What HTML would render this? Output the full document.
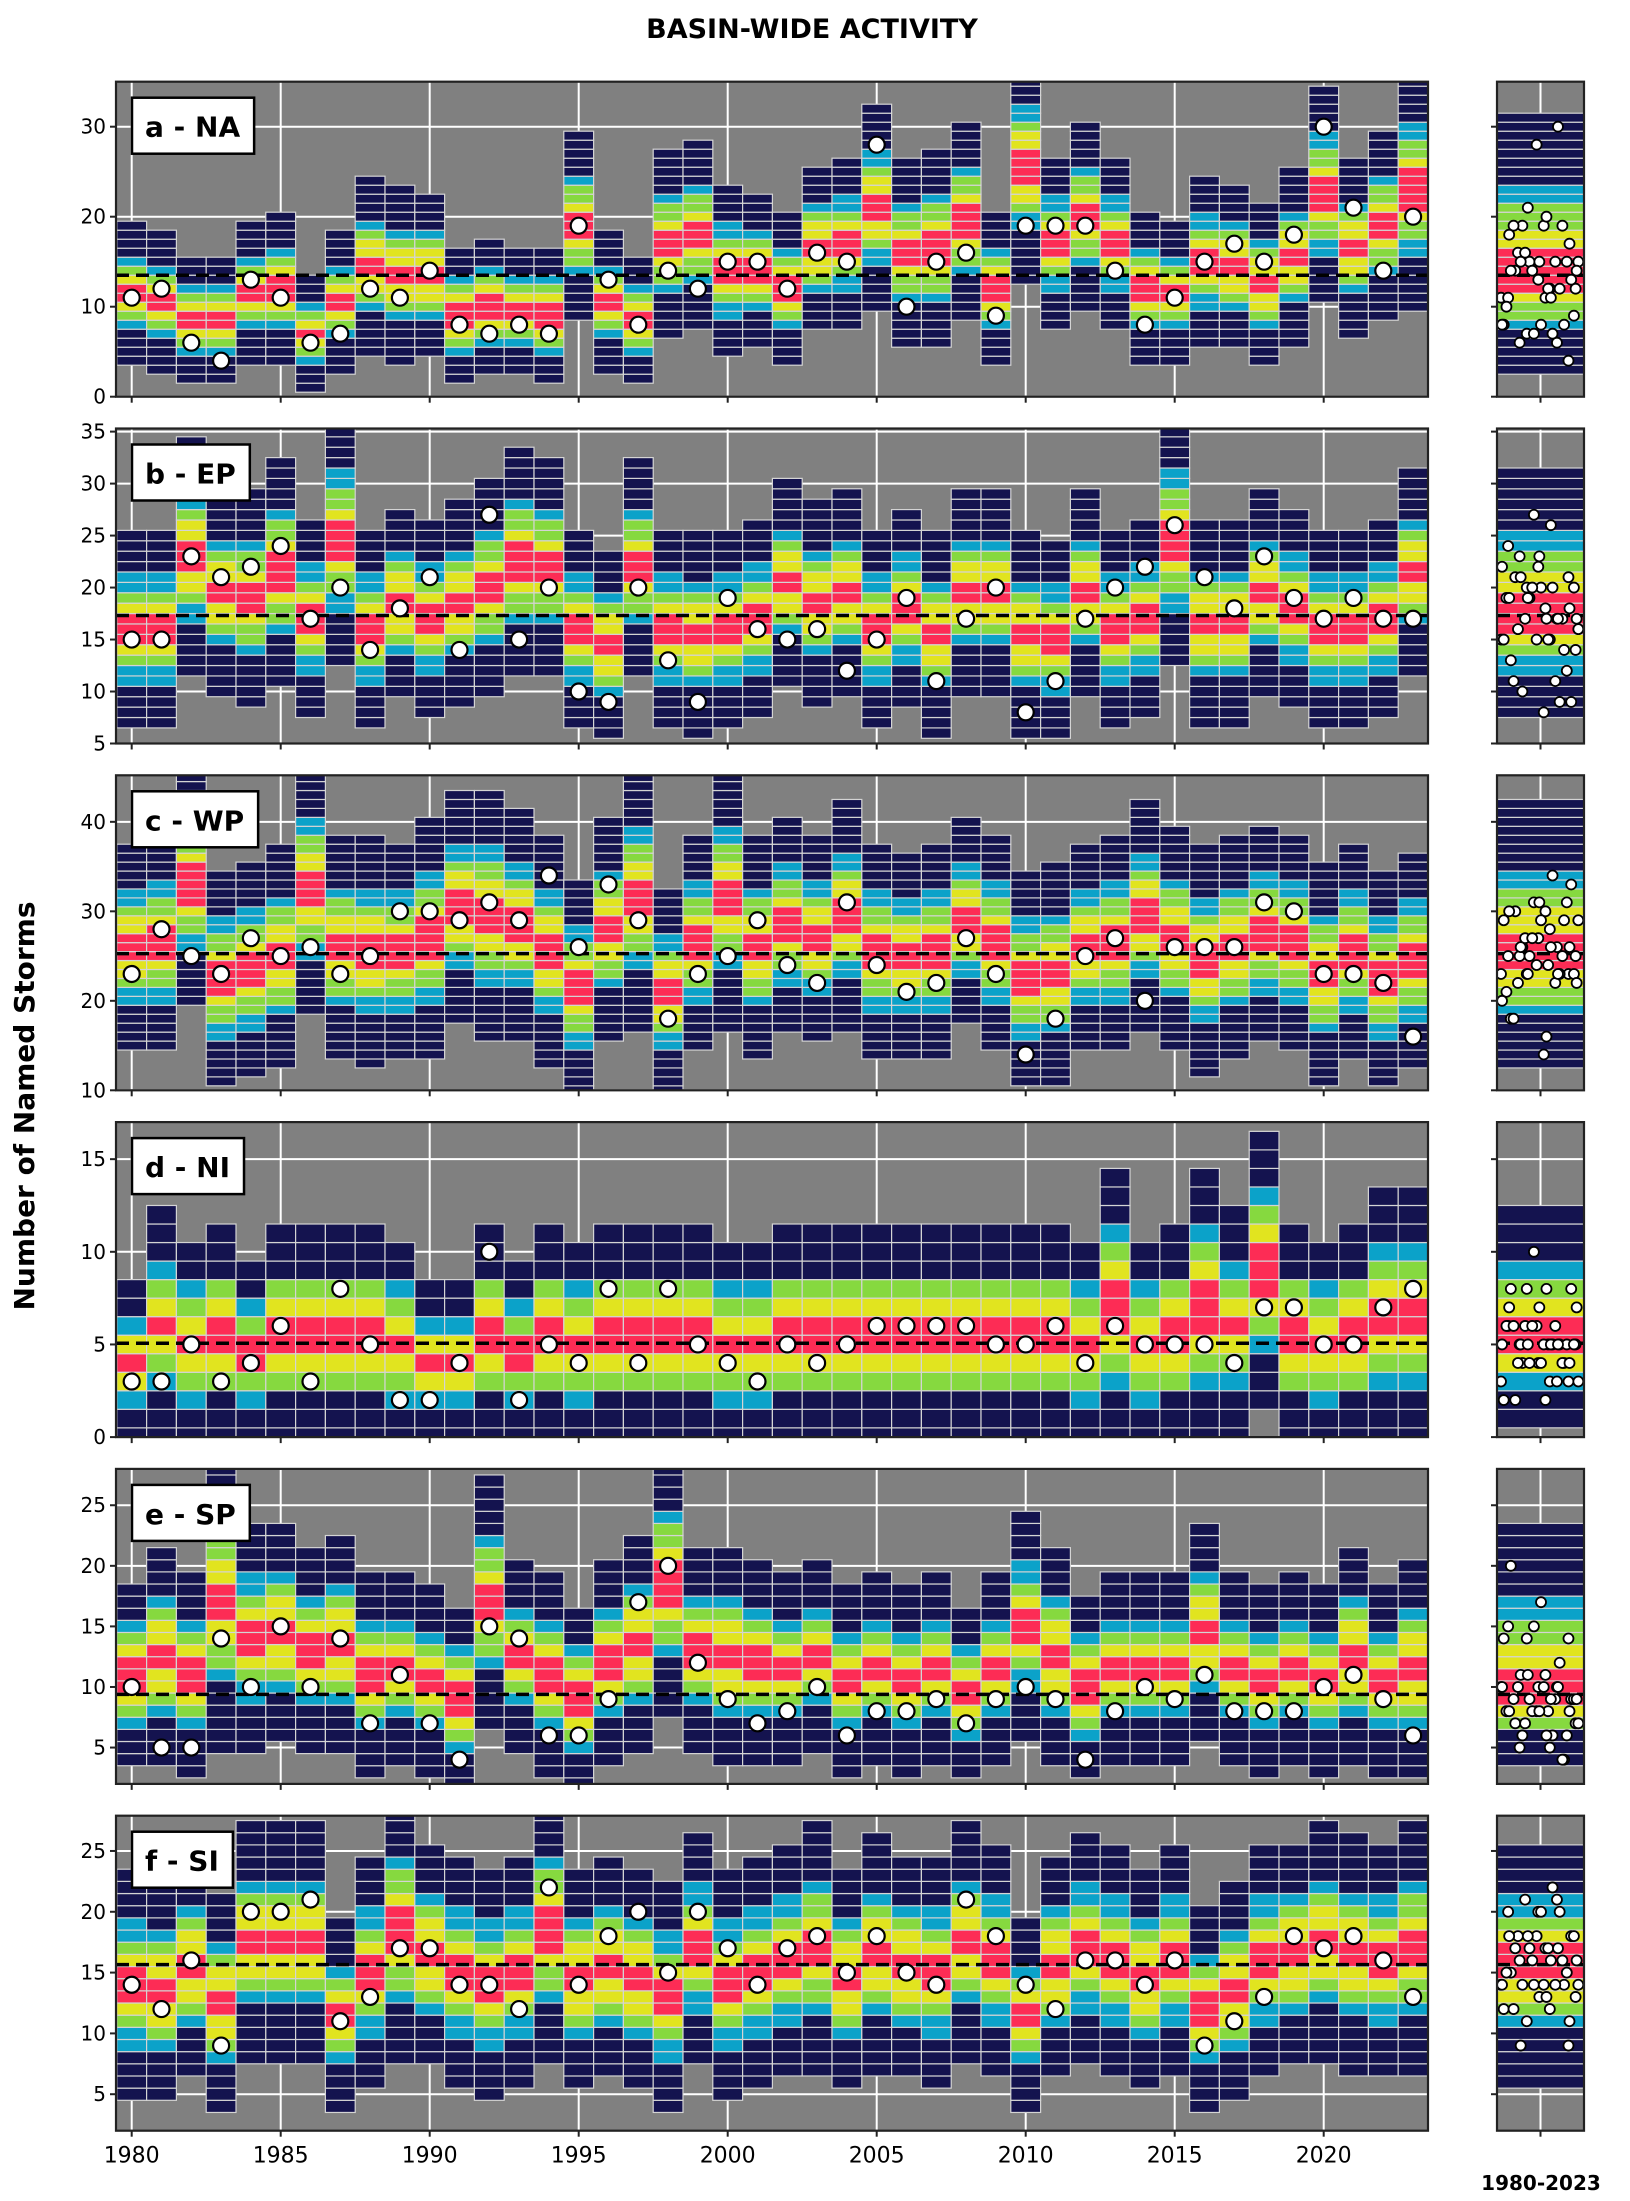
<!DOCTYPE html>
<html><head><meta charset="utf-8"><style>
body{margin:0;background:#fff}
svg{display:block;font-family:"DejaVu Sans","Liberation Sans",sans-serif}
</style></head><body>
<svg id="chart" width="1630" height="2201" viewBox="0 0 1630 2201">
<text x="812" y="38" text-anchor="middle" font-size="27" font-weight="bold">BASIN-WIDE ACTIVITY</text>
<text transform="translate(34,1106) rotate(-90)" text-anchor="middle" font-size="28" font-weight="bold">Number of Named Storms</text>
<text x="1541" y="2190" text-anchor="middle" font-size="20" font-weight="bold">1980-2023</text>
</svg>
<script>
const years = Array.from({length:44},(_, i)=>1980+i);
const panelNames = ["a - NA","b - EP","c - WP","d - NI","e - SP","f - SI"];
const yMin = [0,5,10,0,2,2];
const yMax = [35,35.3,45.2,17,28,27.9];
const yTicks = [[0,10,20,30],[5,10,15,20,25,30,35],[10,20,30,40],[0,5,10,15],[5,10,15,20,25],[5,10,15,20,25]];
const xTickYears = [1980,1985,1990,1995,2000,2005,2010,2015,2020];
const obsNA = [11,12,6,4,13,11,6,7,12,11,14,8,7,8,7,19,13,8,14,12,15,15,12,16,15,28,10,15,16,9,19,19,19,14,8,11,15,17,15,18,30,21,14,20];
const lowNA = [3.5,2.5,1.5,1.5,3.5,3.5,0.5,2.5,4.5,3.5,4.5,1.5,2.5,2.5,1.5,8.5,2.5,1.5,6.5,7.5,4.5,5.5,3.5,7.5,7.5,9.5,5.5,5.5,8.5,3.5,12.5,7.5,9.5,7.5,3.5,3.5,5.5,5.5,3.5,5.5,10.5,6.5,8.5,9.5];
const highNA = [19.5,18.5,15.5,15.5,19.5,20.5,13.5,18.5,24.5,23.5,22.5,16.5,17.5,16.5,16.5,29.5,18.5,15.5,27.5,28.5,23.5,22.5,20.5,25.5,26.5,32.5,26.5,27.5,30.5,20.5,38.5,26.5,30.5,26.5,20.5,19.5,24.5,23.5,21.5,25.5,34.5,26.5,29.5,36.5];
const obsEP = [15,15,23,21,22,24,17,20,14,18,21,14,27,15,20,10,9,20,13,9,19,16,15,16,12,15,19,11,17,20,8,11,17,20,22,26,21,18,23,19,17,19,17,17];
const lowEP = [6.5,6.5,11.5,9.5,8.5,10.5,7.5,12.5,6.5,9.5,7.5,8.5,9.5,11.5,11.5,6.5,5.5,11.5,6.5,5.5,6.5,7.5,10.5,8.5,9.5,6.5,8.5,5.5,9.5,9.5,5.5,5.5,9.5,6.5,7.5,12.5,6.5,6.5,9.5,8.5,6.5,6.5,7.5,11.5];
const highEP = [25.5,25.5,34.5,29.5,29.5,32.5,26.5,36.5,25.5,27.5,26.5,28.5,30.5,33.5,32.5,25.5,23.5,32.5,25.5,25.5,25.5,26.5,30.5,28.5,29.5,25.5,27.5,25.5,29.5,29.5,25.5,24.5,29.5,25.5,26.5,36.5,26.5,26.5,29.5,27.5,25.5,25.5,26.5,31.5];
const obsWP = [23,28,25,23,27,25,26,23,25,30,30,29,31,29,34,26,33,29,18,23,25,29,24,22,31,24,21,22,27,23,14,18,25,27,20,26,26,26,31,30,23,23,22,16];
const lowWP = [14.5,14.5,19.5,10.5,11.5,12.5,18.5,13.5,12.5,13.5,13.5,17.5,15.5,15.5,12.5,9.5,15.5,16.5,9.5,14.5,16.5,13.5,16.5,15.5,16.5,13.5,13.5,13.5,17.5,14.5,10.5,10.5,14.5,14.5,16.5,14.5,11.5,13.5,15.5,14.5,10.5,13.5,10.5,12.5];
const highWP = [37.5,38.5,46.5,34.5,35.5,37.5,46.5,38.5,38.5,37.5,40.5,43.5,43.5,41.5,38.5,33.5,40.5,46.5,32.5,38.5,46.5,38.5,40.5,38.5,42.5,37.5,36.5,37.5,40.5,38.5,34.5,35.5,37.5,38.5,42.5,39.5,37.5,38.5,39.5,38.5,35.5,37.5,34.5,36.5];
const obsNI = [3,3,5,3,4,6,3,8,5,2,2,4,10,2,5,4,8,4,8,5,4,3,5,4,5,6,6,6,6,5,5,6,4,6,5,5,5,4,7,7,5,5,7,8];
const lowNI = [-0.5,-0.5,-0.5,-0.5,-0.5,-0.5,-0.5,-0.5,-0.5,-0.5,-0.5,-0.5,-0.5,-0.5,-0.5,-0.5,-0.5,-0.5,-0.5,-0.5,-0.5,-0.5,-0.5,-0.5,-0.5,-0.5,-0.5,-0.5,-0.5,-0.5,-0.5,-0.5,-0.5,-0.5,-0.5,-0.5,-0.5,-0.5,1.5,-0.5,-0.5,-0.5,-0.5,-0.5];
const highNI = [8.5,12.5,10.5,11.5,9.5,11.5,11.5,11.5,11.5,10.5,8.5,8.5,11.5,9.5,11.5,10.5,11.5,11.5,11.5,11.5,10.5,10.5,11.5,11.5,11.5,11.5,11.5,11.5,11.5,11.5,11.5,11.5,10.5,14.5,10.5,11.5,14.5,12.5,16.5,11.5,10.5,11.5,13.5,13.5];
const obsSP = [10,5,5,14,10,15,10,14,7,11,7,4,15,14,6,6,9,17,20,12,9,7,8,10,6,8,8,9,7,9,10,9,4,8,10,9,11,8,8,8,10,11,9,6];
const lowSP = [3.5,3.5,2.5,4.5,4.5,5.5,4.5,4.5,2.5,3.5,2.5,1.5,6.5,4.5,2.5,1.5,3.5,4.5,7.5,4.5,3.5,3.5,3.5,4.5,2.5,3.5,2.5,3.5,2.5,3.5,5.5,3.5,2.5,3.5,3.5,3.5,5.5,3.5,2.5,3.5,2.5,3.5,2.5,2.5];
const highSP = [18.5,21.5,19.5,29.5,23.5,23.5,21.5,22.5,19.5,19.5,18.5,16.5,27.5,20.5,19.5,16.5,20.5,22.5,29.5,21.5,21.5,20.5,19.5,20.5,18.5,19.5,18.5,19.5,16.5,19.5,24.5,21.5,17.5,19.5,19.5,19.5,23.5,19.5,18.5,19.5,18.5,21.5,18.5,20.5];
const obsSI = [14,12,16,9,20,20,21,11,13,17,17,14,14,12,22,14,18,20,15,20,17,14,17,18,15,18,15,14,21,18,14,12,16,16,14,16,9,11,13,18,17,18,16,13];
const lowSI = [4.5,4.5,6.5,3.5,7.5,7.5,7.5,3.5,5.5,7.5,7.5,5.5,4.5,5.5,7.5,5.5,6.5,5.5,3.5,7.5,4.5,5.5,6.5,6.5,5.5,6.5,6.5,5.5,7.5,6.5,3.5,6.5,7.5,6.5,5.5,6.5,3.5,4.5,6.5,7.5,7.5,6.5,6.5,6.5];
const highSI = [23.5,22.5,24.5,21.5,27.5,27.5,27.5,19.5,24.5,29.5,25.5,24.5,23.5,24.5,29.5,23.5,24.5,23.5,22.5,26.5,23.5,24.5,25.5,27.5,23.5,26.5,24.5,24.5,27.5,25.5,19.5,24.5,26.5,25.5,23.5,25.5,20.5,22.5,25.5,25.5,27.5,26.5,25.5,27.5];
const summaryLow = [2.5,7.5,12.5,0.5,3.5,5.5];
const summaryHigh = [31.5,31.5,42.5,12.5,23.5,25.5];

const obsAll=[obsNA,obsEP,obsWP,obsNI,obsSP,obsSI];
const lowAll=[lowNA,lowEP,lowWP,lowNI,lowSP,lowSI];
const highAll=[highNA,highEP,highWP,highNI,highSP,highSI];

const NS="http://www.w3.org/2000/svg";
const svg=document.getElementById('chart');
function mk(tag,attrs,parent){const e=document.createElementNS(NS,tag);for(const k in attrs)e.setAttribute(k,attrs[k]);(parent||svg).appendChild(e);return e;}
const AX_L=116, AX_R=1428, SX_L=1497, SX_R=1584, PH=315;
const xScale=y=>131.7+(y-1980)*29.8;
const COLORS={navy:"#14134f",cyan:"#0ba2c9",green:"#86d93f",yellow:"#e1e41f",red:"#fd2c55"};
function cellColor(v,c,lo,hi){
  const span=v>=c?(hi-c):(c-lo);
  const f=Math.abs(v-c)/Math.max(span,0.5);
  if(f<0.15)return COLORS.red; if(f<0.28)return COLORS.yellow; if(f<0.42)return COLORS.green; if(f<0.55)return COLORS.cyan; return COLORS.navy;
}
for(let p=0;p<6;p++){
  const top=81.7+p*346.8, bot=top+PH;
  const ys=v=>bot-(v-yMin[p])/(yMax[p]-yMin[p])*PH;
  const clipId='clip'+p, clipId2='clipS'+p;
  const defs=mk('defs',{});
  const cp=mk('clipPath',{id:clipId},defs); mk('rect',{x:AX_L,y:top,width:AX_R-AX_L,height:PH},cp);
  const cp2=mk('clipPath',{id:clipId2},defs); mk('rect',{x:SX_L,y:top,width:SX_R-SX_L,height:PH},cp2);
  const g=mk('g',{});
  
  
  mk('rect',{x:AX_L,y:top,width:AX_R-AX_L,height:PH,fill:'#808080'},g);
  const grid=mk('g',{stroke:'#ffffff','stroke-width':2},g);
  
  
  xTickYears.forEach(yr=>mk('line',{x1:xScale(yr),x2:xScale(yr),y1:top,y2:bot},grid));
  yTicks[p].forEach(t=>{mk('line',{x1:AX_L,x2:AX_R,y1:ys(t),y2:ys(t)},grid);});
  const bars=mk('g',{'clip-path':`url(#${clipId})`},g);
  const obs=obsAll[p], lo=lowAll[p], hi=highAll[p];
  years.forEach((yr,i)=>{
    const bg=mk('g',{},bars);
    
    
    const c=(lo[i]+hi[i])/2;
    for(let v=lo[i]+0.5;v<hi[i];v+=1){
      mk('rect',{x:xScale(yr-0.5),y:ys(v+0.5),width:29.8,height:ys(v-0.5)-ys(v+0.5),fill:cellColor(v,c,lo[i],hi[i]),stroke:'#d4d4d4','stroke-width':1.2},bg);
    }
  });
  const mean=obs.reduce((a,b)=>a+b,0)/obs.length;
  const ml=mk('line',{x1:AX_L,x2:AX_R,y1:ys(mean),y2:ys(mean),stroke:'#000','stroke-width':3.5,'stroke-dasharray':'13,7'},g);
  
  
  years.forEach((yr,i)=>{
    const d=mk('circle',{cx:xScale(yr),cy:ys(obs[i]),r:8,fill:'#fff',stroke:'#000','stroke-width':2.2},g);
    
    
  });
  mk('rect',{x:AX_L,y:top,width:AX_R-AX_L,height:PH,fill:'none',stroke:'#222','stroke-width':2.2},g);
  yTicks[p].forEach(t=>{
    mk('line',{x1:AX_L-6,x2:AX_L,y1:ys(t),y2:ys(t),stroke:'#222','stroke-width':2},g);
    const tl=mk('text',{x:AX_L-10,y:ys(t)+7,'text-anchor':'end','font-size':20},g);
    tl.textContent=t;
    
    
  });
  xTickYears.forEach(yr=>{
    mk('line',{x1:xScale(yr),x2:xScale(yr),y1:bot,y2:bot+6,stroke:'#222','stroke-width':2},g);
    if(p===5){
      const xl=mk('text',{x:xScale(yr),y:bot+32,'text-anchor':'middle','font-size':22},g);
      xl.textContent=yr;
      
      
    }
  });
  const lb=mk('g',{},g);
  
  
  const box=mk('rect',{x:132,y:top+16,width:131,height:56,fill:'#fff',stroke:'#000','stroke-width':2.5},lb);
  const lt=mk('text',{x:145,y:top+55,'font-size':28,'font-weight':'bold'},lb);
  lt.textContent=panelNames[p];
  try{box.setAttribute('width',lt.getComputedTextLength()+27);}catch(e){}
  const sg=mk('g',{},g);
  
  
  mk('rect',{x:SX_L,y:top,width:SX_R-SX_L,height:PH,fill:'#808080'},sg);
  mk('line',{x1:(SX_L+SX_R)/2,x2:(SX_L+SX_R)/2,y1:top,y2:bot,stroke:'#fff','stroke-width':2},sg);
  yTicks[p].forEach(t=>mk('line',{x1:SX_L,x2:SX_R,y1:ys(t),y2:ys(t),stroke:'#fff','stroke-width':2},sg));
  const sb=mk('g',{'clip-path':`url(#${clipId2})`},sg);
  const sl=summaryLow[p], sh=summaryHigh[p];
  for(let v=sl+0.5;v<sh;v+=1){
    mk('rect',{x:SX_L,y:ys(v+0.5),width:SX_R-SX_L,height:ys(v-0.5)-ys(v+0.5),fill:cellColor(v,mean,sl,sh),stroke:'#d4d4d4','stroke-width':1.2},sb);
  }
  mk('line',{x1:SX_L,x2:SX_R,y1:ys(mean),y2:ys(mean),stroke:'#000','stroke-width':3.5,'stroke-dasharray':'13,7'},sb);
  obs.forEach((o,i)=>{
    const jx=SX_L+4+(SX_R-SX_L-8)*((i*0.6180339)%1);
    const d=mk('circle',{cx:jx,cy:ys(o),r:5,fill:'#fff',stroke:'#000','stroke-width':1.8},sb);
    
    
  });
  mk('rect',{x:SX_L,y:top,width:SX_R-SX_L,height:PH,fill:'none',stroke:'#222','stroke-width':2.2},sg);
  yTicks[p].forEach(t=>mk('line',{x1:SX_L-6,x2:SX_L,y1:ys(t),y2:ys(t),stroke:'#222','stroke-width':2},sg));
  mk('line',{x1:(SX_L+SX_R)/2,x2:(SX_L+SX_R)/2,y1:bot,y2:bot+6,stroke:'#222','stroke-width':2},sg);
}
</script>
</body></html>
